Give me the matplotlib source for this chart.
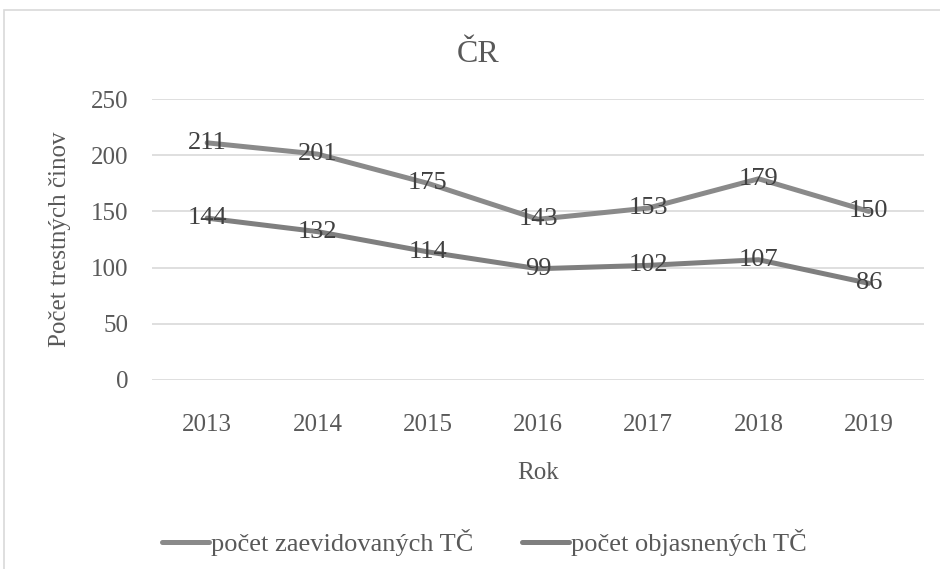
import matplotlib
matplotlib.use("Agg")
import matplotlib.pyplot as plt
from matplotlib.patches import Rectangle

years = ["2013", "2014", "2015", "2016", "2017", "2018", "2019"]
zaevidovane = [211, 201, 175, 143, 153, 179, 150]
objasnene = [144, 132, 114, 99, 102, 107, 86]
series_names = ["počet zaevidovaných TČ", "počet objasnených TČ"]
yticks = [0, 50, 100, 150, 200, 250]

plt.rcParams['font.family'] = ['Liberation Serif', 'DejaVu Serif']

fig = plt.figure(figsize=(9.4, 5.69), dpi=100)
fig.patches.append(Rectangle((4/940, -0.1), 1.2, 1 - 10/569 + 0.1, transform=fig.transFigure,
                             fill=False, edgecolor='#d9d9d9', linewidth=1.2))

ax = fig.add_axes([152/940, 1 - 380/569, (924 - 152)/940, (380 - 99)/569])
x = list(range(len(years)))
l1, = ax.plot(x, zaevidovane, color='#8a8a8a', linewidth=3.6, solid_capstyle='round', zorder=3)
l2, = ax.plot(x, objasnene, color='#7f7f7f', linewidth=3.6, solid_capstyle='round', zorder=3)

for xi, v in zip(x, zaevidovane):
    ax.text(xi, v, str(v), ha='center', va='center', fontsize=19, color='#404040', zorder=4)
for xi, v in zip(x, objasnene):
    ax.text(xi, v, str(v), ha='center', va='center', fontsize=19, color='#404040', zorder=4)

ax.set_xlim(-0.5, len(years) - 0.5)
ax.set_ylim(0, 250)
ax.set_yticks(yticks)
ax.set_xticks(x)
ax.set_xticklabels(years)
ax.yaxis.grid(True, color='#d9d9d9', linewidth=1.2)
ax.set_axisbelow(True)
for s in ax.spines.values():
    s.set_visible(False)
ax.tick_params(axis='both', length=0, labelsize=18, labelcolor='#595959')
ax.tick_params(axis='y', pad=17)
ax.tick_params(axis='x', pad=24.5)

fig.text(478/940, 1 - 55/569, "ČR", ha='center', va='center', fontsize=23, color='#595959')
ax.set_xlabel("Rok", fontsize=18, color='#595959', labelpad=18.5)
ax.set_ylabel("Počet trestných činov", fontsize=18, color='#595959', labelpad=14)

fig.legend([l1, l2], series_names, loc='center', bbox_to_anchor=(484/940, 1 - 543/569),
           ncol=2, frameon=False, fontsize=19, labelcolor='#595959', handlelength=1.8,
           handletextpad=0.05, columnspacing=1.85)

fig.savefig("out.png", dpi=100, facecolor='white')
